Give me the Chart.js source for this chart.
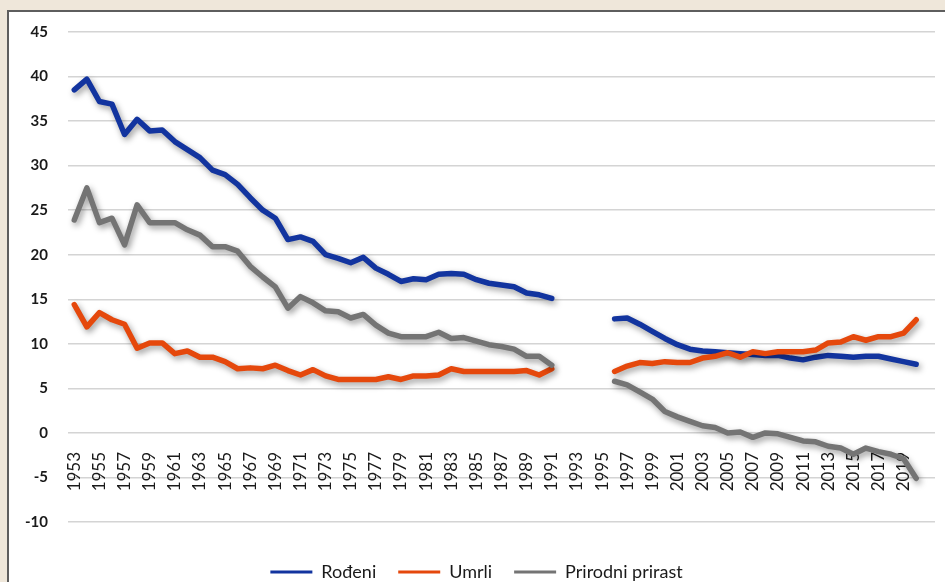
<!DOCTYPE html>
<html>
<head>
<meta charset="utf-8">
<script src="https://cdn.jsdelivr.net/npm/chart.js@4.4.0/dist/chart.umd.min.js"></script>
<style>
  html, body { margin: 0; padding: 0; }
  body { width: 945px; height: 582px; overflow: hidden; background: #efe7da; position: relative; }
  #panel { position: absolute; left: 7px; top: 10px; width: 1000px; height: 650px; background: #fff; border-left: 2px solid #5e5e5e; border-top: 2px solid #5e5e5e; }
  #chart { position: absolute; left: 0; top: 0; }
</style>
</head>
<body>
<div id="panel"></div>
<canvas id="chart" width="945" height="582"></canvas>
<script>
// godine (zadnja kategorija prazna)
const years = [
  '1953', '1954', '1955', '1956', '1957', '1958', '1959', '1960', '1961', '1962',
  '1963', '1964', '1965', '1966', '1967', '1968', '1969', '1970', '1971', '1972',
  '1973', '1974', '1975', '1976', '1977', '1978', '1979', '1980', '1981', '1982',
  '1983', '1984', '1985', '1986', '1987', '1988', '1989', '1990', '1991', '1992',
  '1993', '1994', '1995', '1996', '1997', '1998', '1999', '2000', '2001', '2002',
  '2003', '2004', '2005', '2006', '2007', '2008', '2009', '2010', '2011', '2012',
  '2013', '2014', '2015', '2016', '2017', '2018', '2019', '2020', ''
];

// Rođeni (na 1000 stanovnika)
const rodjeni = [
  38.5, 39.7, 37.2, 36.9, 33.5, 35.2, 33.9, 34.0, 32.7, 31.8,
  30.9, 29.5, 29.0, 27.9, 26.4, 25.0, 24.1, 21.7, 22.0, 21.5,
  20.0, 19.6, 19.1, 19.7, 18.5, 17.8, 17.0, 17.3, 17.2, 17.8,
  17.9, 17.8, 17.2, 16.8, 16.6, 16.4, 15.7, 15.5, 15.1,
  null, null, null, null,
  12.8, 12.9, 12.2, 11.4, 10.6, 9.9, 9.4, 9.2, 9.1, 9.0,
  8.9, 8.8, 8.7, 8.7, 8.4, 8.2, 8.5, 8.7, 8.6, 8.5,
  8.6, 8.6, 8.3, 8.0, 7.7,
  null
];

// Umrli
const umrli = [
  14.4, 11.9, 13.5, 12.7, 12.2, 9.5, 10.1, 10.1, 8.9, 9.2,
  8.5, 8.5, 8.0, 7.2, 7.3, 7.2, 7.6, 7.0, 6.5, 7.1,
  6.4, 6.0, 6.0, 6.0, 6.0, 6.3, 6.0, 6.4, 6.4, 6.5,
  7.2, 6.9, 6.9, 6.9, 6.9, 6.9, 7.0, 6.5, 7.2,
  null, null, null, null,
  6.9, 7.5, 7.9, 7.8, 8.0, 7.9, 7.9, 8.4, 8.6, 9.0,
  8.5, 9.1, 8.9, 9.1, 9.1, 9.1, 9.3, 10.1, 10.2, 10.8,
  10.4, 10.8, 10.8, 11.2, 12.7,
  null
];

// Prirodni prirast
const prirast = [
  23.9, 27.5, 23.6, 24.1, 21.1, 25.6, 23.6, 23.6, 23.6, 22.8,
  22.2, 20.9, 20.9, 20.4, 18.7, 17.5, 16.4, 14.0, 15.3, 14.6,
  13.7, 13.6, 12.9, 13.3, 12.1, 11.2, 10.8, 10.8, 10.8, 11.3,
  10.6, 10.7, 10.3, 9.9, 9.7, 9.4, 8.6, 8.6, 7.6,
  null, null, null, null,
  5.8, 5.4, 4.6, 3.8, 2.4, 1.8, 1.3, 0.8, 0.6, 0.0,
  0.1, -0.5, 0.0, -0.1, -0.5, -0.9, -1.0, -1.5, -1.7, -2.4,
  -1.7, -2.1, -2.4, -2.9, -5.1,
  null
];

const FONT = 'Lato, "Open Sans", sans-serif';

// sjena ispod linija
const shadowPlugin = {
  id: 'lineShadow',
  beforeDatasetDraw(chart) {
    const ctx = chart.ctx;
    ctx.save();
    ctx.shadowColor = 'rgba(0,0,0,0.4)';
    ctx.shadowBlur = 6;
    ctx.shadowOffsetX = 2;
    ctx.shadowOffsetY = 3;
  },
  afterDatasetDraw(chart) {
    chart.ctx.restore();
  },
};

const lineStyle = (label, data, color, order) => ({
  label,
  data,
  borderColor: color,
  backgroundColor: color,
  borderWidth: 5.5,
  pointRadius: 0,
  tension: 0,
  spanGaps: false,
  borderJoinStyle: 'round',
  borderCapStyle: 'round',
  order,
});

new Chart(document.getElementById('chart'), {
  type: 'line',
  data: {
    labels: years,
    datasets: [
      lineStyle('Rođeni', rodjeni, '#12349f', 3),
      lineStyle('Umrli', umrli, '#e5480c', 2),
      lineStyle('Prirodni prirast', prirast, '#747474', 1),
    ],
  },
  options: {
    responsive: false,
    animation: false,
    layout: { padding: { left: 18, right: 10, top: 32, bottom: -9 } },
    scales: {
      x: {
        position: { y: 0 },
        offset: true,
        grid: { display: false, drawTicks: false },
        border: { display: false },
        ticks: {
          autoSkip: false,
          maxRotation: 90,
          minRotation: 90,
          padding: 19,
          color: '#1a1a1a',
          font: { family: FONT, size: 17 },
          callback: function (val, index) {
            const lab = this.getLabelForValue(val);
            return index % 2 === 0 ? lab : '';
          },
        },
        afterFit(scale) {
          // ne rezervirati prostor za zadnju oznaku
          scale.paddingLeft = 0;
          scale.paddingRight = 0;
        },
      },
      y: {
        min: -10,
        max: 45,
        grid: { color: '#d4d4d4', lineWidth: 1.5, drawTicks: false },
        border: { display: false },
        ticks: {
          stepSize: 5,
          padding: 20,
          color: '#1a1a1a',
          font: { family: FONT, size: 15, weight: 'bold' },
        },
        afterFit(scale) {
          scale.width = 50;
        },
      },
    },
    plugins: {
      tooltip: { enabled: false },
      legend: {
        position: 'bottom',
        title: { display: true, text: '', padding: { top: 0, bottom: 19 }, font: { size: 0 } },
        labels: {
          boxWidth: 42,
          boxHeight: 3,
          padding: 22,
          color: '#1a1a1a',
          font: { family: FONT, size: 18 },
          generateLabels(chart) {
            return chart.data.datasets.map((ds, i) => ({
              text: ds.label,
              fillStyle: ds.borderColor,
              strokeStyle: ds.borderColor,
              lineWidth: 0,
              hidden: false,
              datasetIndex: i,
              fontColor: '#1a1a1a',
            }));
          },
        },
      },
    },
  },
  plugins: [shadowPlugin],
});
</script>
</body>
</html>
